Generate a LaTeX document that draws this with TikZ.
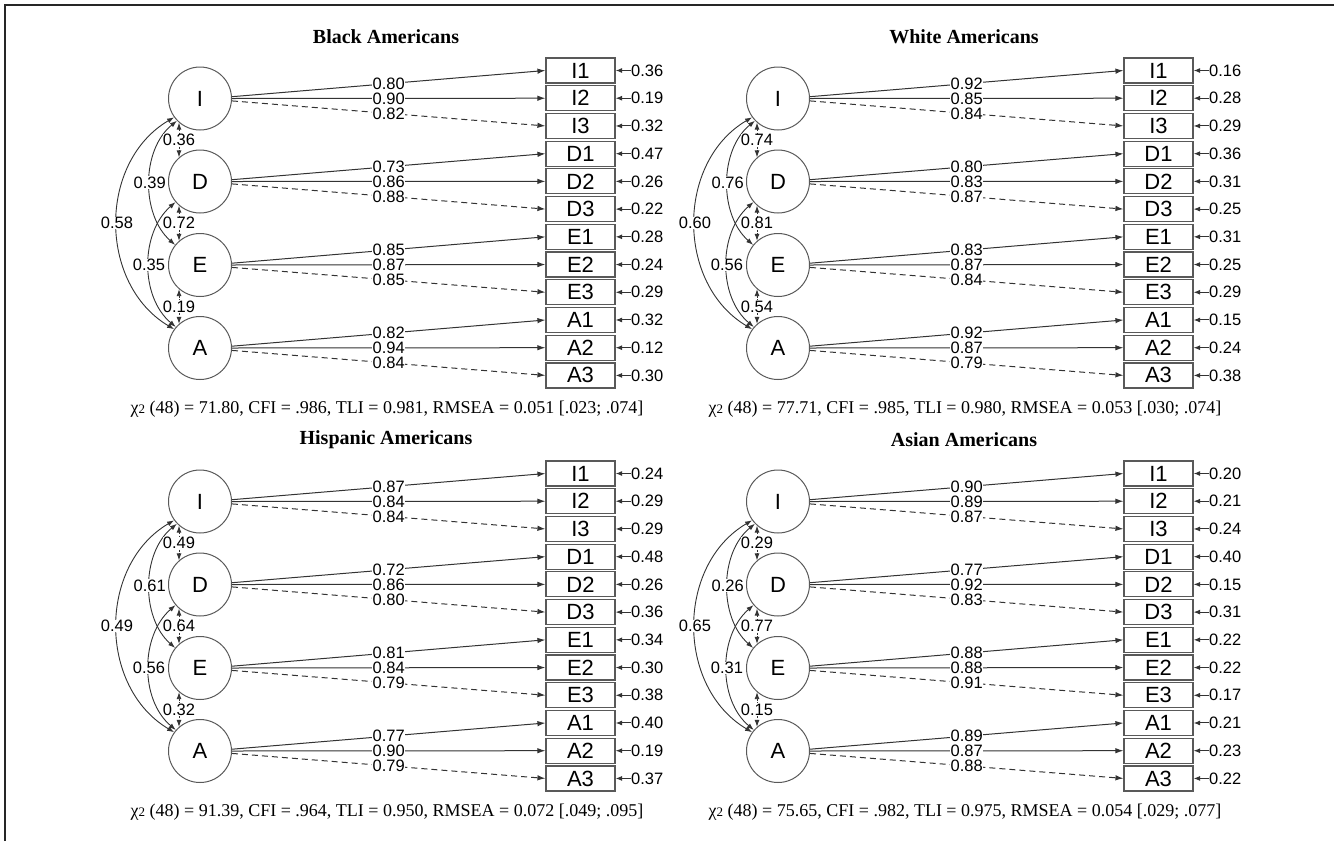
\documentclass[tikz,border=0pt]{standalone}
\usepackage{fontspec}
\setmainfont{Liberation Serif}
\newfontfamily\arialf{Liberation Sans}
\usetikzlibrary{arrows.meta,calc}
\tikzset{
 lat/.style={circle,draw=black!65,line width=1pt,minimum size=63pt,inner sep=0pt,font=\arialf\fontsize{22}{22}\selectfont},
 ind/.style={rectangle,draw=black!65,line width=1.2pt,minimum width=69pt,minimum height=25pt,inner sep=0pt,font=\arialf\fontsize{22}{22}\selectfont},
 lab/.style={fill=white,inner sep=0.3pt,font=\arialf\fontsize{16.5}{16.5}\selectfont},
 clab/.style={fill=white,inner sep=0.3pt,font=\arialf\fontsize{16.5}{16.5}\selectfont},
 errlab/.style={anchor=west,inner sep=0pt,font=\arialf\fontsize{16.5}{16.5}\selectfont},
 ld/.style={draw=black!80,line width=1pt,-{Latex[length=8pt,width=5.5pt]}},
 lddash/.style={ld,dash pattern=on 6pt off 4pt},
 errarr/.style={draw=black!80,line width=1pt,-{Latex[length=6.5pt,width=5pt]}},
 covc/.style={draw=black!80,line width=0.9pt,{Latex[length=7pt,width=5pt]}-{Latex[length=7pt,width=5pt]}},
 covs/.style={covc,dash pattern=on 2pt off 1.5pt},
 ttl/.style={font=\bfseries\fontsize{20}{20}\selectfont,inner sep=0pt},
 fit/.style={font=\fontsize{18}{18}\selectfont,inner sep=0pt},
 frame/.style={draw=black!85,line width=1.3pt}
}
\newcommand\sempanel[7]{%
\begin{scope}[shift={(#2,#3)}]
 \node[ttl] (#1-t) at (386,37) {#4};
 \node[lat] (#1-I) at (200,98.5) {I};
 \node[lat] (#1-D) at (200,181.5) {D};
 \node[lat] (#1-E) at (200,265) {E};
 \node[lat] (#1-A) at (200,348) {A};
 \foreach \fc/\nm/\ldv/\erv [count=\k from 0] in {#5} {
   \pgfmathsetmacro\yy{70.5+27.72*\k}
   \pgfmathtruncatemacro\mm{mod(\k,3)}
   \node[ind] (#1-\nm) at (580.5,\yy) {\nm};
   \node[errlab] (#1-e\nm) at (631,\yy) {\erv};
   \draw[errarr] (#1-e\nm.west) -- (#1-\nm.east);
   \ifcase\mm
     \draw[ld] ($(#1-\fc.east)+(0,-1.8)$) -- node[lab]{\ldv} (#1-\nm.west);
   \or
     \draw[ld] ($(#1-\fc.east)+(0,0)$) -- node[lab]{\ldv} (#1-\nm.west);
   \or
     \draw[lddash] ($(#1-\fc.east)+(0,2.4)$) -- node[lab]{\ldv} (#1-\nm.west);
   \fi
 }
 \foreach \ca/\cb/\cc/\cd/\ce/\cf in {#6} {
   \draw[covc] (#1-I.224) .. controls (141,150) and (141,215) .. node[clab]{\cd} (#1-E.141);
   \draw[covc] (#1-D.220) .. controls (140,233) and (140,297) .. node[clab]{\ce} (#1-A.139);
   \draw[covc] (#1-I.216) .. controls (98,162) and (98,284) .. node[clab]{\cf} (#1-A.144);
   \draw[covs] (#1-I.229) -- node[clab]{\ca} (#1-D.131);
   \draw[covs] (#1-D.229) -- node[clab]{\cb} (#1-E.131);
   \draw[covs] (#1-E.229) -- node[clab]{\cc} (#1-A.131);
 }
 \node[fit] (#1-fit) at (387,409) {χ{\fontsize{13}{13}\selectfont 2} #7};
\end{scope}}
\begin{document}
\begin{tikzpicture}[x=1pt,y=-1pt]
\useasboundingbox (0,0) rectangle (1336,841);
\draw[frame] (5,841) -- (5,5) -- (1334,5);
\sempanel{b}{0}{0}{Black Americans}
 {I/I1/0.80/0.36, I/I2/0.90/0.19, I/I3/0.82/0.32,
  D/D1/0.73/0.47, D/D2/0.86/0.26, D/D3/0.88/0.22,
  E/E1/0.85/0.28, E/E2/0.87/0.24, E/E3/0.85/0.29,
  A/A1/0.82/0.32, A/A2/0.94/0.12, A/A3/0.84/0.30}
 {0.36/0.72/0.19/0.39/0.35/0.58}
 {(48) = 71.80, CFI = .986, TLI = 0.981, RMSEA = 0.051 [.023; .074]}
\sempanel{w}{578}{0}{White Americans}
 {I/I1/0.92/0.16, I/I2/0.85/0.28, I/I3/0.84/0.29,
  D/D1/0.80/0.36, D/D2/0.83/0.31, D/D3/0.87/0.25,
  E/E1/0.83/0.31, E/E2/0.87/0.25, E/E3/0.84/0.29,
  A/A1/0.92/0.15, A/A2/0.87/0.24, A/A3/0.79/0.38}
 {0.74/0.81/0.54/0.76/0.56/0.60}
 {(48) = 77.71, CFI = .985, TLI = 0.980, RMSEA = 0.053 [.030; .074]}
\sempanel{h}{0}{403}{Hispanic Americans}
 {I/I1/0.87/0.24, I/I2/0.84/0.29, I/I3/0.84/0.29,
  D/D1/0.72/0.48, D/D2/0.86/0.26, D/D3/0.80/0.36,
  E/E1/0.81/0.34, E/E2/0.84/0.30, E/E3/0.79/0.38,
  A/A1/0.77/0.40, A/A2/0.90/0.19, A/A3/0.79/0.37}
 {0.49/0.64/0.32/0.61/0.56/0.49}
 {(48) = 91.39, CFI = .964, TLI = 0.950, RMSEA = 0.072 [.049; .095]}
\sempanel{a}{578}{403}{Asian Americans}
 {I/I1/0.90/0.20, I/I2/0.89/0.21, I/I3/0.87/0.24,
  D/D1/0.77/0.40, D/D2/0.92/0.15, D/D3/0.83/0.31,
  E/E1/0.88/0.22, E/E2/0.88/0.22, E/E3/0.91/0.17,
  A/A1/0.89/0.21, A/A2/0.87/0.23, A/A3/0.88/0.22}
 {0.29/0.77/0.15/0.26/0.31/0.65}
 {(48) = 75.65, CFI = .982, TLI = 0.975, RMSEA = 0.054 [.029; .077]}
\end{tikzpicture}
\end{document}
